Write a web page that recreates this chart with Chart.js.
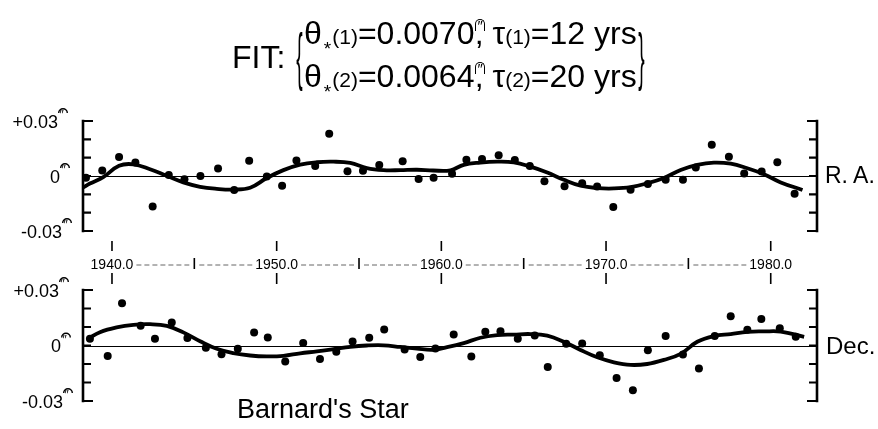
<!DOCTYPE html>
<html><head><meta charset="utf-8">
<script src="https://cdn.jsdelivr.net/npm/chart.js@4/dist/chart.umd.min.js"></script>
<style>
html,body{margin:0;padding:0;background:#fff;}
#wrap{position:relative;width:878px;height:429px;overflow:hidden;font-family:"Liberation Sans",Arial,Helvetica,sans-serif;color:#000;background:#fff;}
canvas{position:absolute;left:0;top:0;}
.abs{position:absolute;white-space:nowrap;line-height:1;}
#title{left:232px;top:14px;display:flex;align-items:center;font-size:32px;}
#title .lines{line-height:38px;}
.fit{position:relative;top:0px;margin-right:10px;font-size:32px;}
.brace{display:inline-block;transform:scale(0.6,1.95);margin:0 -1px;font-weight:normal;}
.sm{font-size:21px;}
.sub{font-size:19px;position:relative;top:11px;margin:0 1px 0 2px;}
.as{display:inline-block;position:relative;top:-13px;font-size:15px;line-height:11px;border:1.4px solid #000;border-bottom:none;border-radius:8px 8px 0 0;padding:0 1px;margin-left:1px;}
.cm{margin-left:-10px;}
</style></head>
<body>
<div id="wrap">
  <canvas id="raChart" width="878" height="429"></canvas>
  <canvas id="decChart" width="878" height="429"></canvas>
  <div id="title" class="abs">
    <span class="fit">FIT:</span>
    <span class="brace">{</span>
    <div class="lines">
      <div>θ<span class="sub">*</span><span class="sm">(1)</span>=0.0070<span class="as">″</span><span class="cm">,</span> τ<span class="sm">(1)</span>=12 yrs</div>
      <div>θ<span class="sub">*</span><span class="sm">(2)</span>=0.0064<span class="as">″</span><span class="cm">,</span> τ<span class="sm">(2)</span>=20 yrs</div>
    </div>
    <span class="brace">}</span>
  </div>
  <div class="abs" style="left:825px;top:164px;font-size:23px;">R. A.</div>
  <div class="abs" style="left:826px;top:334px;font-size:24px;">Dec.</div>
  <div class="abs" style="left:237px;top:396px;font-size:27px;">Barnard's Star</div>
</div>
<script>
// ---- data (years, offsets in arcsec) ----
const xMin = 1938.24, xMax = 1982.81;

const raYears = [1938.42, 1939.41, 1940.43, 1941.42, 1942.47, 1943.45, 1944.40, 1945.37, 1946.44, 1947.42, 1948.33, 1949.40, 1950.33, 1951.20, 1952.34, 1953.19, 1954.30, 1955.24, 1956.23, 1957.65, 1958.62, 1959.53, 1960.65, 1961.52, 1962.47, 1963.48, 1964.46, 1965.37, 1966.26, 1967.48, 1968.55, 1969.46, 1970.44, 1971.49, 1972.54, 1973.62, 1974.67, 1975.45, 1976.42, 1977.46, 1978.39, 1979.45, 1980.40, 1981.45];
const raValues = [-0.0010, 0.0030, 0.0103, 0.0073, -0.0167, 0.0006, -0.0018, 0.0000, 0.0041, -0.0076, 0.0083, -0.0003, -0.0053, 0.0085, 0.0054, 0.0230, 0.0026, 0.0029, 0.0060, 0.0081, -0.0017, -0.0009, 0.0012, 0.0088, 0.0093, 0.0113, 0.0087, 0.0054, -0.0029, -0.0056, -0.0039, -0.0057, -0.0169, -0.0075, -0.0044, -0.0020, -0.0020, 0.0047, 0.0170, 0.0105, 0.0014, 0.0024, 0.0075, -0.0097];

const raFitYears = [1938.24, 1938.66, 1939.47, 1940.43, 1941.30, 1942.31, 1943.32, 1944.33, 1945.35, 1946.36, 1947.37, 1948.39, 1949.40, 1950.41, 1951.43, 1952.44, 1953.45, 1954.47, 1955.48, 1956.49, 1957.51, 1958.52, 1959.50, 1960.55, 1961.36, 1962.37, 1963.39, 1964.40, 1965.41, 1966.43, 1967.44, 1968.45, 1969.47, 1970.48, 1971.49, 1972.50, 1973.51, 1974.53, 1975.54, 1976.55, 1977.57, 1978.58, 1979.59, 1980.61, 1981.93];
const raFitValues = [-0.0063, -0.0041, -0.0006, 0.0056, 0.0064, 0.0037, 0.0001, -0.0035, -0.0059, -0.0070, -0.0074, -0.0064, -0.0011, 0.0032, 0.0062, 0.0075, 0.0078, 0.0071, 0.0043, 0.0032, 0.0032, 0.0034, 0.0030, 0.0031, 0.0061, 0.0073, 0.0078, 0.0074, 0.0051, 0.0019, -0.0021, -0.0053, -0.0066, -0.0068, -0.0061, -0.0040, -0.0011, 0.0033, 0.0061, 0.0073, 0.0067, 0.0042, 0.0010, -0.0035, -0.0076];

const decYears = [1938.66, 1939.74, 1940.61, 1941.74, 1942.61, 1943.63, 1944.58, 1945.70, 1946.65, 1947.64, 1948.63, 1949.46, 1950.52, 1951.61, 1952.63, 1953.62, 1954.61, 1955.62, 1956.53, 1957.77, 1958.72, 1959.64, 1960.75, 1961.82, 1962.67, 1963.59, 1964.64, 1965.67, 1966.46, 1967.58, 1968.55, 1969.62, 1970.64, 1971.63, 1972.54, 1973.62, 1974.67, 1975.64, 1976.60, 1977.57, 1978.58, 1979.43, 1980.55, 1981.52];
const decValues = [0.0037, -0.0057, 0.0228, 0.0107, 0.0036, 0.0124, 0.0041, -0.0012, -0.0047, -0.0018, 0.0070, 0.0043, -0.0086, 0.0013, -0.0073, -0.0034, 0.0021, 0.0042, 0.0086, -0.0021, -0.0062, -0.0016, 0.0060, -0.0059, 0.0074, 0.0077, 0.0037, 0.0054, -0.0116, 0.0009, 0.0011, -0.0053, -0.0175, -0.0242, -0.0026, 0.0052, -0.0049, -0.0124, 0.0051, 0.0158, 0.0085, 0.0143, 0.0093, 0.0047];

const decFitYears = [1938.55, 1939.27, 1940.28, 1941.30, 1942.31, 1943.33, 1944.33, 1945.35, 1946.36, 1947.37, 1948.39, 1949.40, 1950.41, 1951.43, 1952.44, 1953.45, 1954.47, 1955.48, 1956.49, 1957.51, 1958.52, 1959.50, 1960.35, 1961.36, 1962.37, 1963.39, 1964.40, 1965.41, 1966.43, 1967.44, 1968.45, 1969.47, 1970.48, 1971.49, 1972.50, 1973.51, 1974.53, 1975.54, 1976.55, 1977.57, 1978.58, 1979.59, 1980.61, 1982.03];
const decFitValues = [0.0037, 0.0072, 0.0098, 0.0112, 0.0115, 0.0106, 0.0071, 0.0023, -0.0018, -0.0041, -0.0054, -0.0059, -0.0056, -0.0042, -0.0032, -0.0020, -0.0007, 0.0000, 0.0001, -0.0008, -0.0017, -0.0023, -0.0009, 0.0013, 0.0042, 0.0056, 0.0059, 0.0062, 0.0053, 0.0020, -0.0024, -0.0064, -0.0091, -0.0105, -0.0100, -0.0078, -0.0045, 0.0020, 0.0051, 0.0062, 0.0074, 0.0076, 0.0075, 0.0047];

const decadeTicks = [1940, 1950, 1960, 1970, 1980];
const decadeLabels = ['1940.0', '1950.0', '1960.0', '1970.0', '1980.0'];
const halfDecadeTicks = [1945, 1955, 1965, 1975];
const yTickValues = [-0.03, -0.02, -0.01, 0, 0.01, 0.02, 0.03];
const yLabelValues = [0.03, 0, -0.03];
const yLabelTexts = ['+0.03', '0', '-0.03'];

const FONT = '"Liberation Sans", Arial, Helvetica, sans-serif';

function arcsecMark(ctx, x, yBase) {
  ctx.save();
  ctx.fillStyle = '#000'; ctx.strokeStyle = '#000';
  ctx.font = '12px ' + FONT;
  ctx.textAlign = 'left'; ctx.textBaseline = 'alphabetic';
  ctx.fillText('″', x + 1.5, yBase + 4);
  ctx.beginPath(); ctx.lineWidth = 1.4;
  ctx.arc(x + 5, yBase - 2, 4.3, Math.PI, 0);
  ctx.stroke();
  ctx.restore();
}

const framePlugin = {
  id: 'frame',
  beforeDatasetsDraw(chart) {
    const {ctx, chartArea: a, scales: {y}} = chart;
    const y0 = Math.round(y.getPixelForValue(0)) + 0.5;
    ctx.save();
    ctx.strokeStyle = '#000'; ctx.lineWidth = 1;
    ctx.beginPath(); ctx.moveTo(a.left, y0); ctx.lineTo(a.right, y0); ctx.stroke();
    ctx.lineWidth = 2.6;
    const top = y.getPixelForValue(0.03), bot = y.getPixelForValue(-0.03);
    ctx.beginPath();
    ctx.moveTo(a.left, top - 1.3); ctx.lineTo(a.left, bot + 1.3);
    ctx.moveTo(a.right, top - 1.3); ctx.lineTo(a.right, bot + 1.3);
    ctx.stroke();
    ctx.lineWidth = 2.2;
    yTickValues.forEach(v => {
      const p = y.getPixelForValue(v);
      const len = (Math.abs(v) > 0.025) ? 10 : 8;
      ctx.beginPath();
      ctx.moveTo(a.left, p); ctx.lineTo(a.left + len, p);
      ctx.moveTo(a.right, p); ctx.lineTo(a.right - len, p);
      ctx.stroke();
    });
    ctx.restore();
  },
  afterDraw(chart, args, opts) {
    const {ctx, scales: {x, y}} = chart;
    ctx.save();
    ctx.fillStyle = '#000';
    ctx.font = '18px ' + FONT;
    ctx.textBaseline = 'middle';
    ctx.textAlign = 'right';
    const rights = opts.labelRights;
    yLabelValues.forEach((v, i) => {
      const p = y.getPixelForValue(v) + 2;
      ctx.fillText(yLabelTexts[i], rights[i], p);
      arcsecMark(ctx, rights[i], p - 8);
    });
    if (opts.yearRow) {
      ctx.font = '14px ' + FONT;
      ctx.textAlign = 'center';
      ctx.strokeStyle = '#000';
      const rowY = 265;
      const spans = [];
      decadeTicks.forEach((yr, i) => {
        const px = x.getPixelForValue(yr);
        const w = ctx.measureText(decadeLabels[i]).width;
        ctx.fillText(decadeLabels[i], px, rowY);
        spans.push([px - w / 2 - 3, px + w / 2 + 3]);
        ctx.lineWidth = 1.6;
        ctx.beginPath();
        ctx.moveTo(px, 241); ctx.lineTo(px, 251);
        ctx.moveTo(px, 273); ctx.lineTo(px, 284);
        ctx.stroke();
      });
      halfDecadeTicks.forEach((yr, i) => {
        const px = x.getPixelForValue(yr);
        ctx.lineWidth = 1.6; ctx.strokeStyle = '#000';
        ctx.beginPath(); ctx.moveTo(px, 258); ctx.lineTo(px, 269); ctx.stroke();
        ctx.strokeStyle = '#666'; ctx.lineWidth = 1;
        ctx.setLineDash([5, 3]);
        ctx.beginPath();
        ctx.moveTo(spans[i][1], rowY); ctx.lineTo(px - 5, rowY);
        ctx.moveTo(px + 5, rowY); ctx.lineTo(spans[i + 1][0], rowY);
        ctx.stroke();
        ctx.setLineDash([]);
      });
    }
    ctx.restore();
  }
};

function makePanel(id, years, values, fitYears, fitValues, padding, opts) {
  const pts = years.map((t, i) => ({x: t, y: values[i]}));
  const fit = fitYears.map((t, i) => ({x: t, y: fitValues[i]}));
  return new Chart(document.getElementById(id), {
    type: 'scatter',
    data: {
      datasets: [
        {data: fit, showLine: true, borderColor: '#000', borderWidth: 3.8, pointRadius: 0, tension: 0.4, fill: false},
        {data: pts, showLine: false, pointRadius: 4, pointBackgroundColor: '#000', pointBorderWidth: 0}
      ]
    },
    options: {
      responsive: false, animation: false, events: [],
      layout: {padding},
      plugins: {legend: {display: false}, tooltip: {enabled: false}, frame: opts},
      scales: {
        x: {type: 'linear', min: xMin, max: xMax, display: false},
        y: {type: 'linear', min: -0.03, max: 0.03, display: false}
      }
    },
    plugins: [framePlugin]
  });
}

makePanel('raChart', raYears, raValues, raFitYears, raFitValues,
  {left: 83, right: 61, top: 121, bottom: 198},
  {yearRow: true, labelRights: [58, 60, 62]});
makePanel('decChart', decYears, decValues, decFitYears, decFitValues,
  {left: 83, right: 61, top: 290, bottom: 28},
  {yearRow: false, labelRights: [59, 61, 63]});
</script>
</body></html>
